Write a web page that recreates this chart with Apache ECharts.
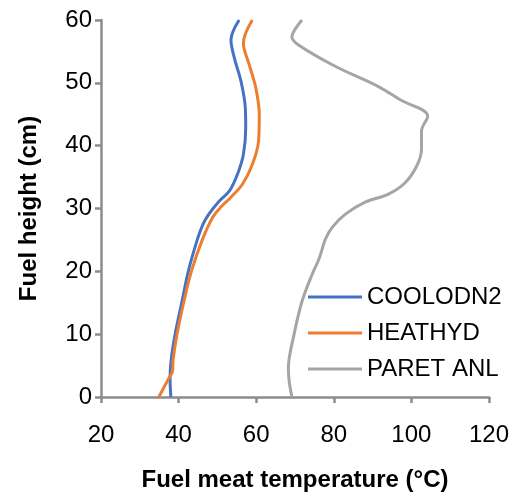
<!DOCTYPE html>
<html>
<head>
<meta charset="utf-8">
<script src="https://cdn.jsdelivr.net/npm/echarts@6/dist/echarts.min.js"></script>
<style>html,body{margin:0;padding:0;background:#fff}#c{width:512px;height:497px}</style>
</head>
<body>
<div id="c"></div>
<script>
const seriesNames = ['COOLODN2', 'HEATHYD', 'PARET ANL'];
const coolHeight = [0, 3, 6, 10, 15, 20, 25, 27.5, 29.1, 31.2, 32.8, 35.5, 38.6, 42.8, 46, 50.2, 53.9, 56.8, 60];
const coolTemp   = [38.0, 37.8, 38.1, 39.1, 40.8, 42.5, 44.8, 46.3, 47.8, 50.5, 53.1, 55.2, 56.7, 57.3, 57.2, 56.1, 54.4, 53.5, 55.6];
const heatHeight = [0, 3, 4, 6, 10, 15, 20, 25, 28.6, 30.3, 31.8, 33.9, 37, 40.7, 44.9, 49.2, 52.9, 56.3, 60];
const heatTemp   = [34.9, 37.5, 38.4, 38.6, 39.6, 41.3, 43.3, 46.1, 48.8, 51.0, 53.5, 56.5, 59.0, 60.6, 60.8, 59.9, 58.2, 56.7, 59.0];
const paretHeight = [0, 2.5, 4.6, 9.8, 15.2, 19.5, 22, 25.2, 27, 29.1, 31, 32.3, 34.1, 36.8, 39.4, 42.3, 44.7, 47.3, 49.4, 52.6, 56, 57.3, 58.5, 60];
const paretTemp   = [69.2, 68.5, 68.3, 69.7, 71.8, 74.4, 76.2, 77.9, 79.6, 83.0, 88.1, 94.1, 98.4, 101.4, 102.6, 102.6, 104.2, 97.1, 91.5, 80.5, 71.0, 69.2, 70.0, 71.8];
const xTicks = [20, 40, 60, 80, 100, 120];
const yTicks = [0, 10, 20, 30, 40, 50, 60];
const colors = ['#4472C4', '#ED7D31', '#A5A5A5'];

function pairs(t, h) { return t.map((v, i) => [v, h[i]]); }
const font = 'Liberation Sans, Arial, sans-serif';
const axisColor = '#8c8c8c';

const chart = echarts.init(document.getElementById('c'));
chart.setOption({
  animation: false,
  grid: { left: 101, right: 21, top: 20, bottom: 98, containLabel: false },
  xAxis: {
    type: 'value', min: xTicks[0], max: xTicks[xTicks.length - 1], interval: 20,
    name: 'Fuel meat temperature (°C)', nameLocation: 'middle', nameGap: 71,
    nameTextStyle: { fontFamily: font, fontSize: 24, fontWeight: 'bold', color: '#000' },
    axisLine: { show: true, onZero: false, lineStyle: { color: axisColor, width: 2.5 } },
    axisTick: { show: true, length: 6, lineStyle: { color: axisColor, width: 2.5 } },
    axisLabel: { fontFamily: font, fontSize: 24, color: '#000', margin: 26 },
    splitLine: { show: false }
  },
  yAxis: {
    type: 'value', min: yTicks[0], max: yTicks[yTicks.length - 1], interval: 10,
    name: 'Fuel height (cm)', nameLocation: 'middle', nameGap: 60,
    nameTextStyle: { fontFamily: font, fontSize: 24, fontWeight: 'bold', color: '#000' },
    axisLine: { show: true, onZero: false, lineStyle: { color: axisColor, width: 2.5 } },
    axisTick: { show: true, length: 6, lineStyle: { color: axisColor, width: 2.5 } },
    axisLabel: { fontFamily: font, fontSize: 24, color: '#000', margin: 9 },
    splitLine: { show: false }
  },
  legend: {
    orient: 'vertical', left: 303, top: 280, itemWidth: 54, itemHeight: 3, itemGap: 12,
    icon: 'rect',
    textStyle: { fontFamily: font, fontSize: 24, color: '#000', lineHeight: 24 },
    data: seriesNames
  },
  series: [
    { name: seriesNames[0], type: 'line', data: pairs(coolTemp, coolHeight), smooth: 0.35, showSymbol: false, lineStyle: { width: 3, color: colors[0] }, itemStyle: { color: colors[0] } },
    { name: seriesNames[1], type: 'line', data: pairs(heatTemp, heatHeight), smooth: 0.35, showSymbol: false, lineStyle: { width: 3, color: colors[1] }, itemStyle: { color: colors[1] } },
    { name: seriesNames[2], type: 'line', data: pairs(paretTemp, paretHeight), smooth: 0.35, showSymbol: false, lineStyle: { width: 3, color: colors[2] }, itemStyle: { color: colors[2] } }
  ]
});
</script>
</body>
</html>
